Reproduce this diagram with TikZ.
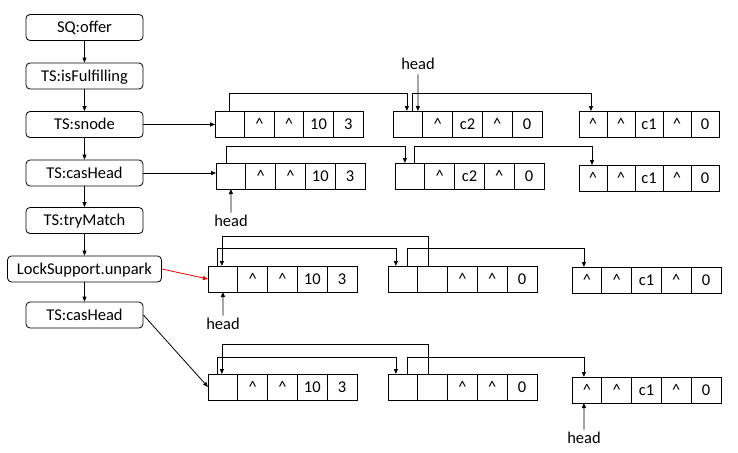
\documentclass[tikz,border=0pt]{standalone}
\usepackage{fontspec}
\setmainfont{Carlito}
\usetikzlibrary{arrows.meta,calc}
\newcommand\crt{\textasciicircum}
\newcommand\recnode[9]{%
  \pgfmathsetmacro\cw{#4/5}%
  \node[cell, minimum width=\cw pt] (#1-1) at (#2,#3) {#5};
  \node[cell, minimum width=\cw pt] (#1-2) at (#1-1.north east) {#6};
  \node[cell, minimum width=\cw pt] (#1-3) at (#1-2.north east) {#7};
  \node[cell, minimum width=\cw pt] (#1-4) at (#1-3.north east) {#8};
  \node[cell, minimum width=\cw pt] (#1-5) at (#1-4.north east) {#9};
}
\begin{document}
\begin{tikzpicture}[x=1pt,y=-1pt,line width=0.8pt,
  arr/.style={-{Triangle[length=5pt,width=4pt]}},
  fbox/.style={draw, rounded corners=4pt, minimum height=26pt, inner sep=0pt,
    font=\fontsize{16.5}{19}\selectfont, text height=10.6pt, text depth=0pt},
  cell/.style={draw, minimum height=26pt, inner sep=0pt, outer sep=0pt,
    anchor=north west, font=\fontsize{16.5}{19}\selectfont,
    text height=10.6pt, text depth=0pt},
  lbl/.style={inner sep=2pt, font=\fontsize{16.5}{19}\selectfont,
    text height=11pt, text depth=3pt}]
\useasboundingbox (0,0) rectangle (738,452);
% left column
\node[fbox, minimum width=117pt] (offer) at (84.5,27.5) {SQ:offer};
\node[fbox, minimum width=117pt] (isf) at (84.5,76) {TS:isFulfilling};
\node[fbox, minimum width=117pt] (snode) at (84.5,124.5) {TS:snode};
\node[fbox, minimum width=117pt] (casA) at (84.5,173) {TS:casHead};
\node[fbox, minimum width=117pt] (try) at (84.5,220.5) {TS:tryMatch};
\node[fbox, minimum width=154pt] (unpark) at (84.5,269) {LockSupport.unpark};
\node[fbox, minimum width=117pt] (casB) at (84.5,315) {TS:casHead};
\draw[arr] (offer.south) -- (isf.north);
\draw[arr] (isf.south) -- (snode.north);
\draw[arr] (snode.south) -- (casA.north);
\draw[arr] (casA.south) -- (try.north);
\draw[arr] (try.south) -- (unpark.north);
\draw[arr] (unpark.south) -- (casB.north);
% records
\recnode{a1}{215}{111}{148}{}{\crt}{\crt}{10}{3}
\recnode{b1}{393}{111}{149}{}{\crt}{c2}{\crt}{0}
\recnode{c1}{579}{111}{140}{\crt}{\crt}{c1}{\crt}{0}
\recnode{a2}{216}{163}{149}{}{\crt}{\crt}{10}{3}
\recnode{b2}{395}{163}{149}{}{\crt}{c2}{\crt}{0}
\recnode{c2}{579}{165}{140}{\crt}{\crt}{c1}{\crt}{0}
\recnode{a3}{208}{266}{149}{}{\crt}{\crt}{10}{3}
\recnode{b3}{388}{266}{149}{}{}{\crt}{\crt}{0}
\recnode{c3}{572}{267}{149}{\crt}{\crt}{c1}{\crt}{0}
\recnode{a4}{208}{374}{149}{}{\crt}{\crt}{10}{3}
\recnode{b4}{388}{374}{149}{}{}{\crt}{\crt}{0}
\recnode{c4}{572}{377}{149}{\crt}{\crt}{c1}{\crt}{0}
% row 1
\draw[arr] (snode.east) -- (snode.east -| a1-1.west);
\draw[arr] (a1-1.north) -- (a1-1.north |- 0,93) -| ([xshift=-1pt]b1-1.north);
\draw[arr] ([xshift=4pt]b1-1.north) -- ([xshift=4pt]b1-1.north |- 0,93) -| ([xshift=-2pt]c1-1.north);
\node[lbl] (h1) at (418,65) {head};
\draw[arr] (h1.south) -- ([xshift=10pt]b1-1.north);
% row 2
\draw[arr] (casA.east) -- (casA.east -| a2-1.west);
\draw[arr] ([xshift=-5pt]a2-1.north) -- ([xshift=-5pt]a2-1.north |- 0,146) -| ([xshift=-5pt]b2-1.north);
\draw[arr] ([xshift=4pt]b2-1.north) -- ([xshift=4pt]b2-1.north |- 0,146) -| ([xshift=-1pt]c2-1.north);
\node[lbl] (h2) at (231,222) {head};
\draw[arr] (h2.north) -- (a2-1.south);
% row 3
\draw[arr, red] (unpark.east) -- (a3-1.west);
\draw[arr] ([xshift=-6pt]a3-1.north) -- ([xshift=-6pt]a3-1.north |- 0,248) -| ([xshift=-7pt]b3-1.north);
\draw[arr] ([xshift=-4pt]b3-2.north) -- ([xshift=-4pt]b3-2.north |- 0,236) -| ([xshift=-1pt]a3-1.north);
\draw[arr] ([xshift=4pt]b3-1.north) -- ([xshift=4pt]b3-1.north |- 0,248) -| ([xshift=-3pt]c3-1.north);
\node[lbl] (h3) at (223,325) {head};
\draw[arr] (h3.north) -- (a3-1.south);
% row 4
\draw[arr] (casB.east) -- (a4-1.west);
\draw[arr] ([xshift=-6pt]a4-1.north) -- ([xshift=-6pt]a4-1.north |- 0,357) -| ([xshift=-7pt]b4-1.north);
\draw[arr] ([xshift=-4pt]b4-2.north) -- ([xshift=-4pt]b4-2.north |- 0,344) -| ([xshift=-1pt]a4-1.north);
\draw[arr] ([xshift=4pt]b4-1.north) -- ([xshift=4pt]b4-1.north |- 0,357) -| ([xshift=-3pt]c4-1.north);
\node[lbl] (h4) at (584,439) {head};
\draw[arr] (h4.north) -- ([xshift=-3pt]c4-1.south);
\end{tikzpicture}
\end{document}
